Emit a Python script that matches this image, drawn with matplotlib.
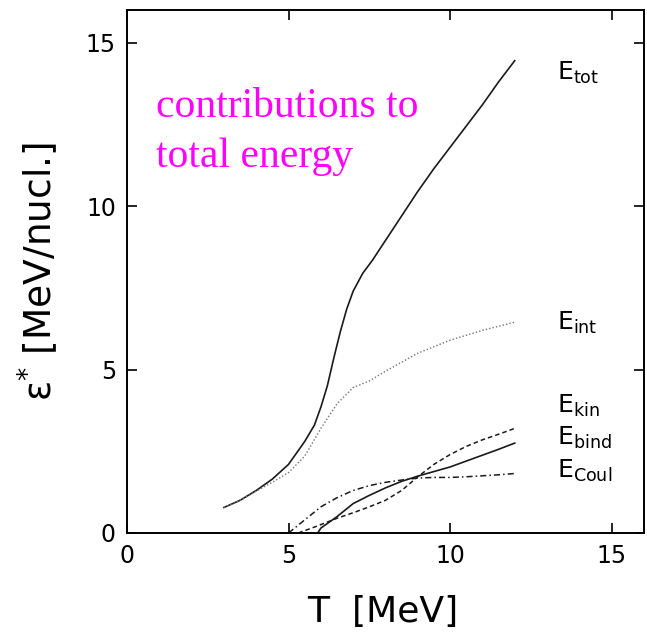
import matplotlib
matplotlib.use('Agg')
import matplotlib.pyplot as plt
import numpy as np

matplotlib.rcParams.update({'font.size': 17, 'mathtext.fontset': 'dejavusans'})

# E_tot (solid)
t_tot = [3.0, 3.5, 4.0, 4.5, 5.0, 5.5, 5.8, 6.0, 6.2, 6.4, 6.6, 6.8, 7.0, 7.3, 7.6, 8.0, 8.5,
         9.0, 9.5, 10.0, 10.5, 11.0, 11.5, 12.0]
e_tot = [0.78, 1.0, 1.3, 1.65, 2.1, 2.8, 3.3, 3.85, 4.5, 5.35, 6.15, 6.85, 7.4, 7.95, 8.35, 8.95, 9.7,
         10.45, 11.15, 11.8, 12.45, 13.1, 13.8, 14.45]

# E_int (dotted)
t_int = [3.0, 3.5, 4.0, 4.5, 5.0, 5.5, 6.0, 6.5, 7.0, 7.5, 8.0, 9.0, 10.0, 11.0, 12.0]
e_int = [0.78, 1.0, 1.28, 1.55, 1.85, 2.35, 3.2, 3.95, 4.45, 4.65, 4.95, 5.5, 5.9, 6.2, 6.45]

# E_kin (dashed)
t_kin = [5.3, 5.8, 6.5, 7.0, 7.5, 8.0, 8.5, 9.0, 9.5, 10.0, 10.5, 11.0, 11.5, 12.0]
e_kin = [0.0, 0.18, 0.45, 0.62, 0.8, 1.0, 1.3, 1.72, 2.1, 2.4, 2.65, 2.85, 3.02, 3.2]

# E_bind (solid)
t_bind = [5.9, 6.0, 6.5, 7.0, 7.5, 8.0, 8.5, 9.0, 9.5, 10.0, 10.5, 11.0, 11.5, 12.0]
e_bind = [0.0, 0.15, 0.5, 0.9, 1.15, 1.38, 1.58, 1.74, 1.88, 2.02, 2.2, 2.38, 2.56, 2.75]

# E_Coul (dash-dot)
t_coul = [5.0, 5.5, 6.0, 6.5, 7.0, 7.5, 8.0, 8.5, 9.0, 9.5, 10.0, 10.5, 11.0, 11.5, 12.0]
e_coul = [0.0, 0.4, 0.8, 1.08, 1.3, 1.45, 1.55, 1.62, 1.68, 1.7, 1.7, 1.72, 1.75, 1.78, 1.82]

labels = [r'$\mathregular{E_{tot}}$', r'$\mathregular{E_{int}}$', r'$\mathregular{E_{kin}}$',
          r'$\mathregular{E_{bind}}$', r'$\mathregular{E_{Coul}}$']
label_y = [13.87, 6.21, 3.67, 2.69, 1.68]

fig = plt.figure(figsize=(6.47, 6.38), dpi=100)
ax = fig.add_axes([0.1963, 0.1646, 0.799, 0.8197])

ax.plot(t_tot, e_tot, color='0.1', lw=1.2)
ax.plot(t_int, e_int, color='0.45', lw=1.0, linestyle=(0, (1, 1.5)))
ax.plot(t_kin, e_kin, color='0.1', lw=1.1, linestyle=(0, (3, 2)))
ax.plot(t_bind, e_bind, color='0.1', lw=1.2)
ax.plot(t_coul, e_coul, color='0.1', lw=1.1, linestyle=(0, (4, 2, 1, 2)))

for lab, yy in zip(labels, label_y):
    ax.text(13.3, yy, lab, fontsize=18, va='baseline', ha='left')

ax.text(0.9, 11.2, 'contributions to\ntotal energy', color='magenta', fontsize=30,
        family='Liberation Serif', va='baseline', ha='left', linespacing=1.4)

ax.set_xlim(0, 16)
ax.set_ylim(0, 16)
ax.set_xticks([0, 5, 10, 15])
ax.set_yticks([0, 5, 10, 15])
ax.tick_params(direction='in', length=7, width=1.2, top=True, right=True, pad=8)
for s in ax.spines.values():
    s.set_linewidth(1.4)

ax.set_xlabel('T  [MeV]', fontsize=26, va='center')
ax.xaxis.set_label_coords(0.495, -0.151)
ax.set_ylabel(r'$\mathregular{\epsilon^{*}}$ [MeV/nucl.]', fontsize=27, va='center')
ax.yaxis.set_label_coords(-0.172, 0.5)

plt.savefig('out.png', dpi=100)
